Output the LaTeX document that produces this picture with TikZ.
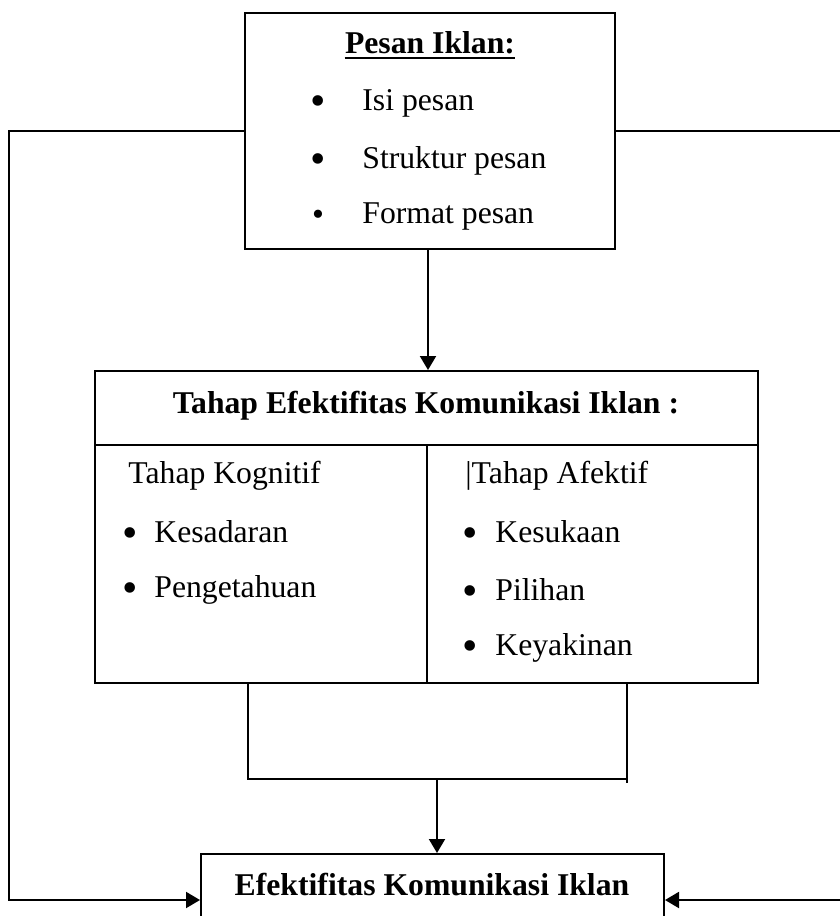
\documentclass[tikz,border=0pt]{standalone}
\usepackage{fontspec}
\setmainfont{Liberation Serif}
\usetikzlibrary{arrows.meta,calc}
\tikzset{
  boxnode/.style={draw, line width=1pt, inner sep=0pt, fill=none},
  txt/.style={font=\fontsize{15.85pt}{19pt}\selectfont, inner sep=0pt, anchor=base west},
  btxt/.style={font=\fontsize{15.85pt}{19pt}\selectfont\bfseries, inner sep=0pt, anchor=base},
  bul/.style={font=\fontsize{22pt}{22pt}\selectfont, inner sep=0pt, anchor=center},
  conn/.style={line width=1pt},
  arr/.style={line width=1pt, -{Triangle[width=8pt,length=7pt]}},
}
\begin{document}
\begin{tikzpicture}[x=0.5pt,y=-0.5pt]
\useasboundingbox (0,0) rectangle (840,916);
\clip (0,0) rectangle (840,916);
\fill[white] (0,0) rectangle (840,916);

% top box
\node[boxnode, minimum width=185pt, minimum height=118pt] (top) at (430,131) {};
\node[btxt] (title) at (430,53.5) {Pesan Iklan:};
\draw[line width=1pt] (title.west |- 0,58) -- (title.east |- 0,58);
\node[bul] (b1) at (318,106) {•};
\node[txt] (t1) at (362,110.5) {Isi pesan};
\node[bul] (b2) at (318,164) {•};
\node[txt] (t2) at (362,168.5) {Struktur pesan};
\node[bul, font=\fontsize{17pt}{17pt}\selectfont] (b3) at (318,218) {•};
\node[txt] (t3) at (362,223.5) {Format pesan};

% middle box
\node[boxnode, minimum width=331.5pt, minimum height=156pt] (mid) at (426.5,527) {};
\coordinate (hl) at (95,445);
\coordinate (hr) at (758,445);
\coordinate (dv) at (426.5,445);
\draw[conn] (hl) -- (hr);
\draw[conn] (dv) -- (dv |- mid.south);
\node[btxt] (head) at (426,413.5) {Tahap Efektifitas Komunikasi Iklan :};
\node[txt] (lk) at (128,483.5) {Tahap Kognitif};
\node[bul] (lb1) at (130,538) {•};
\node[txt] (l1) at (154,542.5) {Kesadaran};
\node[bul] (lb2) at (130,593) {•};
\node[txt] (l2) at (154,597.5) {Pengetahuan};
\node[txt] (ra) at (465,483.5) {|Tahap Afektif};
\node[bul] (rb1) at (470,538) {•};
\node[txt] (r1) at (495,542.5) {Kesukaan};
\node[bul] (rb2) at (470,596) {•};
\node[txt] (r2) at (495,600.5) {Pilihan};
\node[bul] (rb3) at (470,651) {•};
\node[txt] (r3) at (495,655.5) {Keyakinan};

% bottom box
\node[boxnode, minimum width=231.5pt, minimum height=46pt] (bot) at (432.5,900) {};
\node[btxt] (bt) at (432,895.5) {Efektifitas Komunikasi Iklan};

% connectors
\draw[arr] (top.south -| 428,0) -- (mid.north -| 428,0);
\coordinate (bl) at (248,683);
\coordinate (br) at (627,683);
\coordinate (bm) at (437,779);
\draw[conn] (bl) -- (248,779) -- (627,779) -- (br);
\draw[conn] (627,779) -- (627,783);
\draw[arr] (bm) -- (bm |- bot.north);
\draw[arr] (top.west) -- (9,131) -- (9,900) -- (bot.west);
\draw[arr] (top.east) -- (850,131) -- (850,900) -- (bot.east);
\end{tikzpicture}
\end{document}
